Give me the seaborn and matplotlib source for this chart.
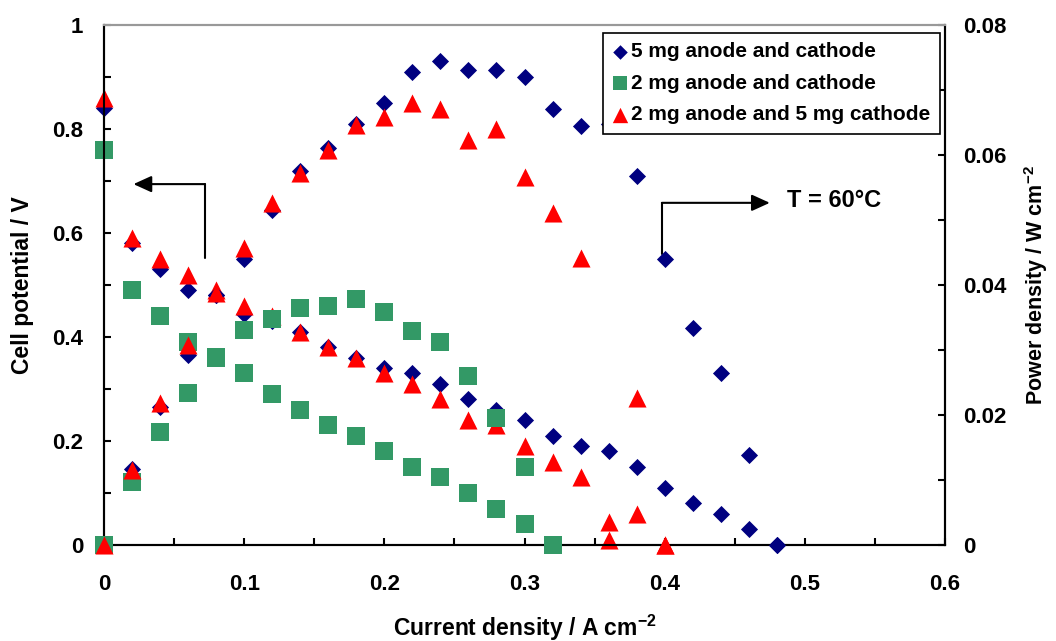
import numpy as np
import matplotlib
matplotlib.use("Agg")
import matplotlib.pyplot as plt
import seaborn as sns
from matplotlib.ticker import MultipleLocator, FuncFormatter

# current density (A cm-2) for each cell
i_blue = [0, 0.02, 0.04, 0.06, 0.08, 0.10, 0.12, 0.14, 0.16, 0.18, 0.20, 0.22, 0.24,
          0.26, 0.28, 0.30, 0.32, 0.34, 0.36, 0.38, 0.40, 0.42, 0.44, 0.46, 0.48]
i_green = [0, 0.02, 0.04, 0.06, 0.08, 0.10, 0.12, 0.14, 0.16, 0.18, 0.20, 0.22, 0.24,
           0.26, 0.28, 0.30, 0.32]
i_red = [0, 0.02, 0.04, 0.06, 0.08, 0.10, 0.12, 0.14, 0.16, 0.18, 0.20, 0.22, 0.24,
         0.26, 0.28, 0.30, 0.32, 0.34, 0.36, 0.38, 0.40]

# cell potential (V)
v_blue = [0.84, 0.58, 0.53, 0.49, 0.48, 0.445, 0.43, 0.41, 0.38, 0.36, 0.34, 0.33, 0.31,
          0.28, 0.26, 0.24, 0.21, 0.19, 0.18, 0.15, 0.11, 0.08, 0.06, 0.03, 0.0]
v_green = [0.76, 0.49, 0.44, 0.39, 0.36, 0.33, 0.29, 0.26, 0.23, 0.21, 0.18, 0.15, 0.13,
           0.10, 0.07, 0.04, 0.0]
v_red = [0.86, 0.59, 0.55, 0.52, 0.49, 0.46, 0.44, 0.41, 0.38, 0.36, 0.33, 0.31, 0.28,
         0.24, 0.23, 0.19, 0.16, 0.13, 0.01, 0.06, 0.0]

# power density (W cm-2)
p_blue = [0, 0.0117, 0.0212, 0.0293, 0.0384, 0.0440, 0.0516, 0.0576, 0.0610, 0.0648,
          0.0680, 0.0727, 0.0744, 0.0730, 0.0731, 0.0720, 0.0671, 0.0645, 0.0648, 0.0568,
          0.0440, 0.0334, 0.0265, 0.0138, 0.0]
p_green = [0, 0.0097, 0.0174, 0.0234, 0.0289, 0.0330, 0.0347, 0.0364, 0.0368, 0.0378,
           0.0358, 0.0329, 0.0312, 0.0260, 0.0195, 0.0120, 0.0]
p_red = [0, 0.0116, 0.0218, 0.0308, 0.0388, 0.0457, 0.0526, 0.0572, 0.0608, 0.0646,
         0.0658, 0.0680, 0.0670, 0.0623, 0.0640, 0.0566, 0.0510, 0.0442, 0.0036, 0.0226, 0.0]

labels = ['5 mg anode and cathode', '2 mg anode and cathode', '2 mg anode and 5 mg cathode']

sns.set_theme(style="white")
plt.rcParams['font.family'] = ['Liberation Sans', 'DejaVu Sans']
plt.rcParams['font.weight'] = 'bold'
plt.rcParams['axes.labelweight'] = 'bold'
plt.rcParams['text.color'] = 'black'
plt.rcParams['axes.labelcolor'] = 'black'
plt.rcParams['xtick.color'] = 'black'
plt.rcParams['ytick.color'] = 'black'
plt.rcParams['mathtext.fontset'] = 'custom'
plt.rcParams['mathtext.rm'] = 'Liberation Sans:bold'
plt.rcParams['mathtext.bf'] = 'Liberation Sans:bold'

fs_tick = 16
fs_lab = 16.5
fs_leg = 15
fig = plt.figure(figsize=(10.56, 6.41), dpi=100)
ax = fig.add_axes([0.0985, 0.1498, 0.7964, 0.8112])
ax2 = ax.twinx()

styles = [('#000080', 'D', 76), ('#339966', 's', 150), ('#ff0000', '^', 169)]
series = [(i_blue, v_blue, p_blue), (i_green, v_green, p_green), (i_red, v_red, p_red)]

for (c, m, s), (x, v, p), lab in zip(styles, series, labels):
    sns.scatterplot(x=x, y=v, ax=ax, color=c, marker=m, s=s, linewidth=0,
                    label=lab, legend=False, zorder=3, clip_on=False)
for (c, m, s), (x, v, p) in zip(styles, series):
    sns.scatterplot(x=x, y=p, ax=ax2, color=c, marker=m, s=s, linewidth=0,
                    legend=False, zorder=3, clip_on=False)

ax.set_xlim(0, 0.6)
ax.set_ylim(0, 1)
ax2.set_ylim(0, 0.08)

ax.xaxis.set_major_locator(MultipleLocator(0.1))
ax.xaxis.set_minor_locator(MultipleLocator(0.05))
ax.yaxis.set_major_locator(MultipleLocator(0.2))
ax.yaxis.set_minor_locator(MultipleLocator(0.1))
ax2.yaxis.set_major_locator(MultipleLocator(0.02))
ax2.yaxis.set_minor_locator(MultipleLocator(0.01))
fmt = FuncFormatter(lambda v, pos: f"{v:g}")
ax.xaxis.set_major_formatter(fmt)
ax.yaxis.set_major_formatter(fmt)
ax2.yaxis.set_major_formatter(fmt)

ax.tick_params(axis='both', which='both', direction='in', length=5, width=1.5,
               color='black', labelcolor='black', labelsize=fs_tick,
               left=True, bottom=True, right=False, top=False)
ax.tick_params(axis='x', pad=21)
ax.tick_params(axis='y', pad=15)
ax2.tick_params(axis='y', which='both', direction='in', length=5, width=1.5,
                color='black', labelcolor='black', labelsize=fs_tick,
                right=True, left=False, pad=13)

for a in (ax, ax2):
    for side in ('left', 'bottom', 'right'):
        a.spines[side].set_color('black')
        a.spines[side].set_linewidth(1.5)
    a.spines['top'].set_color('#999999')
    a.spines['top'].set_linewidth(1.5)
    a.grid(False)

ax.set_xlabel('Current density / A cm$^{-2}$', fontsize=fs_lab, color='black')
ax.set_ylabel('Cell potential / V', fontsize=fs_lab, color='black')
ax2.set_ylabel('Power density / W cm$^{-2}$', fontsize=15.5, color='black')
ax.xaxis.set_label_coords(0.5, -0.13)
ax.yaxis.set_label_coords(-0.083, 0.5)
ax2.yaxis.set_label_coords(1.092, 0.5)

# arrows pointing to the relevant axis
ax.plot([0.072, 0.072], [0.552, 0.694], color='black', lw=1.5, zorder=2)
ax.annotate('', xy=(0.021, 0.694), xytext=(0.072, 0.694),
            arrowprops=dict(arrowstyle='-|>,head_length=0.55,head_width=0.25',
                            color='black', lw=1.5, mutation_scale=20, shrinkA=0, shrinkB=0))
ax.plot([0.398, 0.398], [0.56, 0.658], color='black', lw=1.5, zorder=2)
ax.annotate('', xy=(0.475, 0.658), xytext=(0.398, 0.658),
            arrowprops=dict(arrowstyle='-|>,head_length=0.55,head_width=0.25',
                            color='black', lw=1.5, mutation_scale=20, shrinkA=0, shrinkB=0))
ax.text(0.487, 0.663, 'T = 60°C', fontsize=17, fontweight='bold', color='black',
        va='center', ha='left')

handles, labs = ax.get_legend_handles_labels()
leg = ax2.legend(handles, labs, loc='upper right', bbox_to_anchor=(0.994, 0.985),
                 fontsize=fs_leg, frameon=True, fancybox=False, framealpha=1,
                 edgecolor='black', handlelength=0.72, handletextpad=0.2,
                 labelspacing=0.6, borderpad=0.45, borderaxespad=0, markerscale=0.85)
leg.get_frame().set_linewidth(1.2)
for t in leg.get_texts():
    t.set_color('black')
leg.set_zorder(10)

fig.savefig('out.png', dpi=100)
